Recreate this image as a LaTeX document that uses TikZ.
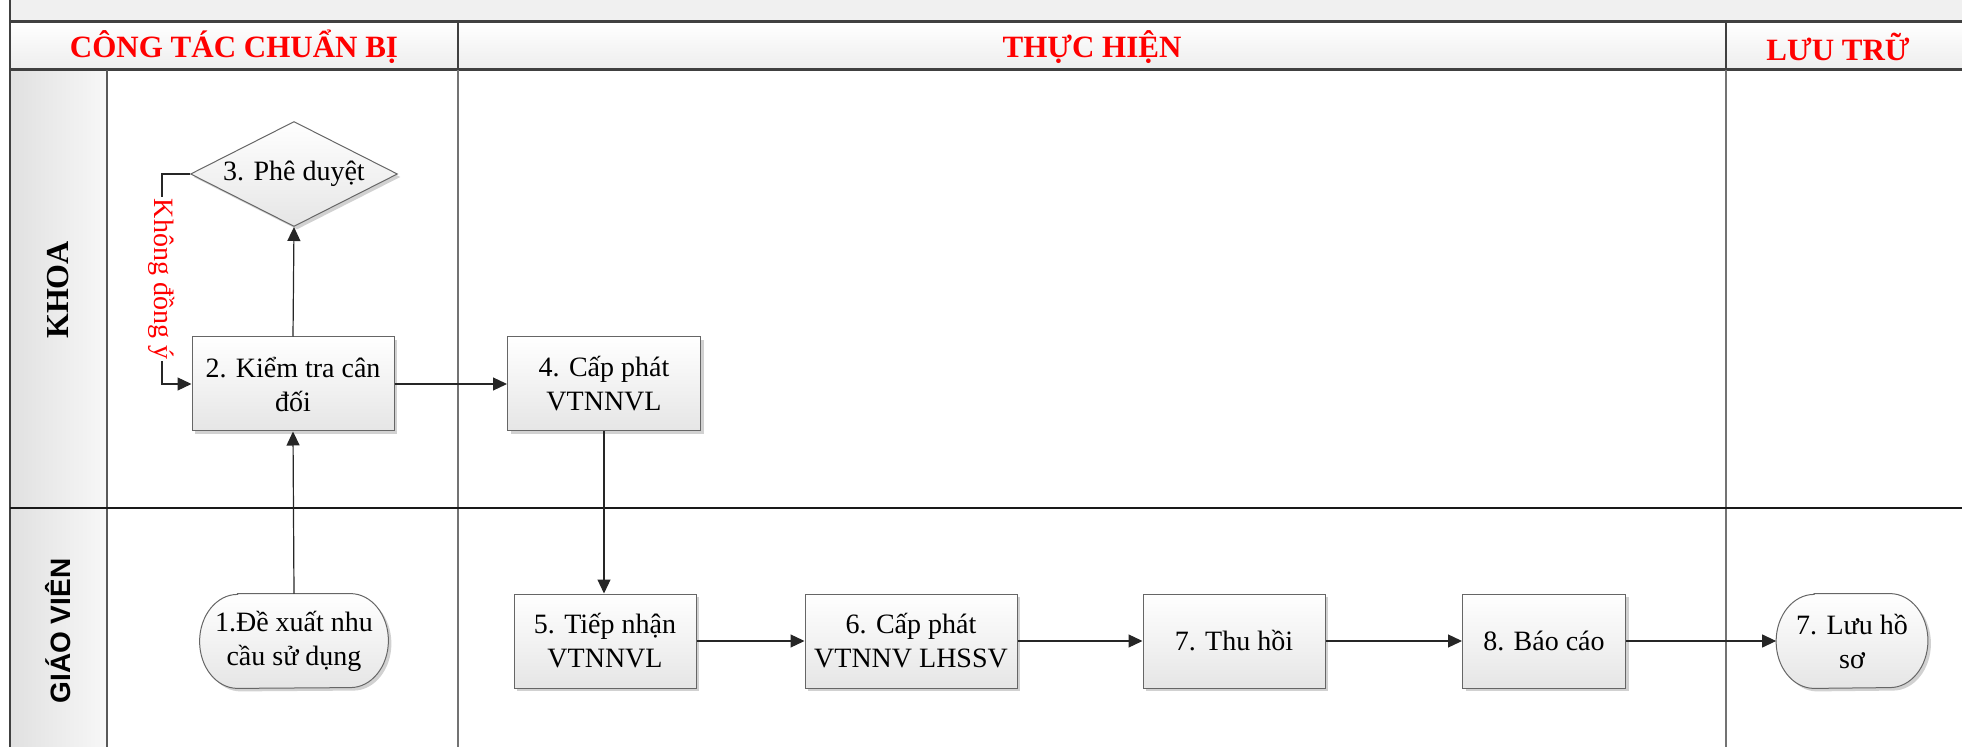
\documentclass[tikz,border=0pt]{standalone}
\usepackage{fontspec}
\setmainfont{Liberation Serif}
\newfontfamily\arialf{Liberation Sans}
\usetikzlibrary{arrows.meta,shadows,shapes.geometric}
\pgfdeclarelayer{bg}
\pgfdeclarelayer{mid}
\pgfsetlayers{bg,mid,main}
\tikzset{
 boxlook/.style={draw=black!60, line width=0.5pt, top color=white, bottom color=black!10,
   drop shadow={shadow xshift=1.5pt, shadow yshift=-1.5pt, fill=black!30, opacity=0.6}},
 txt/.style={align=center, font=\fontsize{14}{17}\selectfont, inner sep=2pt, minimum height=47pt},
 proc/.style={boxlook, txt},
 term/.style={txt},
 dec/.style={proc, diamond, aspect=2, inner sep=0pt, minimum width=103.5pt, minimum height=52.5pt},
 arr/.style={-{Triangle[length=7pt,width=6.5pt]}, line width=0.6pt, black!85},
 hdr/.style={font=\fontsize{15.5}{18}\selectfont\bfseries, text=red},
 frame/.style={line width=1.5pt, black!75},
 lanecol/.style={line width=0.8pt, black!55},
}
\newcommand{\termshape}[1]{%
 \begin{pgfonlayer}{mid}
 \path[boxlook] ([xshift=19pt]#1.north west) -- ([xshift=-19pt]#1.north east)
   arc[start angle=90, end angle=-90, x radius=19pt, y radius=23.5pt]
   -- ([xshift=19pt]#1.south west)
   arc[start angle=270, end angle=90, x radius=19pt, y radius=23.5pt] -- cycle;
 \end{pgfonlayer}}
\begin{document}
\begin{tikzpicture}[x=0.5pt,y=-0.5pt]
\useasboundingbox (0,0) rectangle (1962,747);
\begin{pgfonlayer}{bg}
% backgrounds
\fill[black!6] (10,0) rectangle (1962,22);
\shade[top color=white, bottom color=black!7] (10,22) rectangle (1962,70);
\shade[left color=black!12, right color=black!3] (10,70) rectangle (107,747);
% frame lines
\draw[frame] (10,22) -- (1962,22);
\draw[frame] (10,70) -- (1962,70);
\draw[line width=1pt, black!75] (10,0) -- (10,747);
\draw[line width=1pt, black!75] (458,22) -- (458,70);
\draw[line width=1pt, black!75] (1726,22) -- (1726,70);
\draw[lanecol] (458,70) -- (458,747);
\draw[lanecol] (1726,70) -- (1726,747);
\draw[line width=1pt, black!65] (107,70) -- (107,747);
\draw[line width=1.2pt, black!90] (10,508) -- (1962,508);
\end{pgfonlayer}
% headers
\node[hdr] (h1) at (234,47) {CÔNG TÁC CHUẨN BỊ};
\node[hdr] (h2) at (1092,47) {THỰC HIỆN};
\node[hdr] (h3) at (1838,47) {LƯU TRỮ};
% lane labels
\node[rotate=90, font=\fontsize{16}{18}\selectfont\bfseries] (l1) at (58,290) {KHOA};
\node[rotate=90, font=\arialf\fontsize{14}{16}\selectfont\bfseries] (l2) at (58,631) {GIÁO VIÊN};
% nodes
\node[dec] (d3) at (294,174) {3. Phê duyệt};
\node[proc, minimum width=101pt] (b2) at (293,384) {2. Kiểm tra cân\\đối};
\node[proc, minimum width=96.5pt] (b4) at (604,384) {4. Cấp phát\\VTNNVL};
\node[term, minimum width=94pt] (t1) at (294,641) {1.Đề xuất nhu\\cầu sử dụng};
\node[proc, minimum width=91pt] (b5) at (605,641) {5. Tiếp nhận\\VTNNVL};
\node[proc, minimum width=106pt] (b6) at (911,641) {6. Cấp phát\\VTNNV LHSSV};
\node[proc, minimum width=91pt] (b7) at (1234,641) {7. Thu hồi};
\node[proc, minimum width=81.5pt] (b8) at (1544,641) {8. Báo cáo};
\node[term, minimum width=75.5pt] (t9) at (1852,641) {7. Lưu hồ\\sơ};
\termshape{t1}
\termshape{t9}
% connectors
\coordinate (k) at (162,0);
\draw[arr] (t1.north) -- (b2.south);
\draw[arr] (b2.north) -- (d3.south);
\draw[arr] (d3.west) -- (d3.west -| k) -- node[rotate=-90, fill=white, inner sep=1pt, text=red, font=\fontsize{14}{16}\selectfont] (lbl) {Không đồng ý} (b2.west -| k) -- (b2.west);
\draw[arr] (b2.east) -- (b4.west);
\draw[arr] (b4.south) -- (b4.south |- b5.north);
\draw[arr] (b5.east) -- (b6.west);
\draw[arr] (b6.east) -- (b7.west);
\draw[arr] (b7.east) -- (b8.west);
\draw[arr] (b8.east) -- (t9.west);
\end{tikzpicture}
\end{document}
